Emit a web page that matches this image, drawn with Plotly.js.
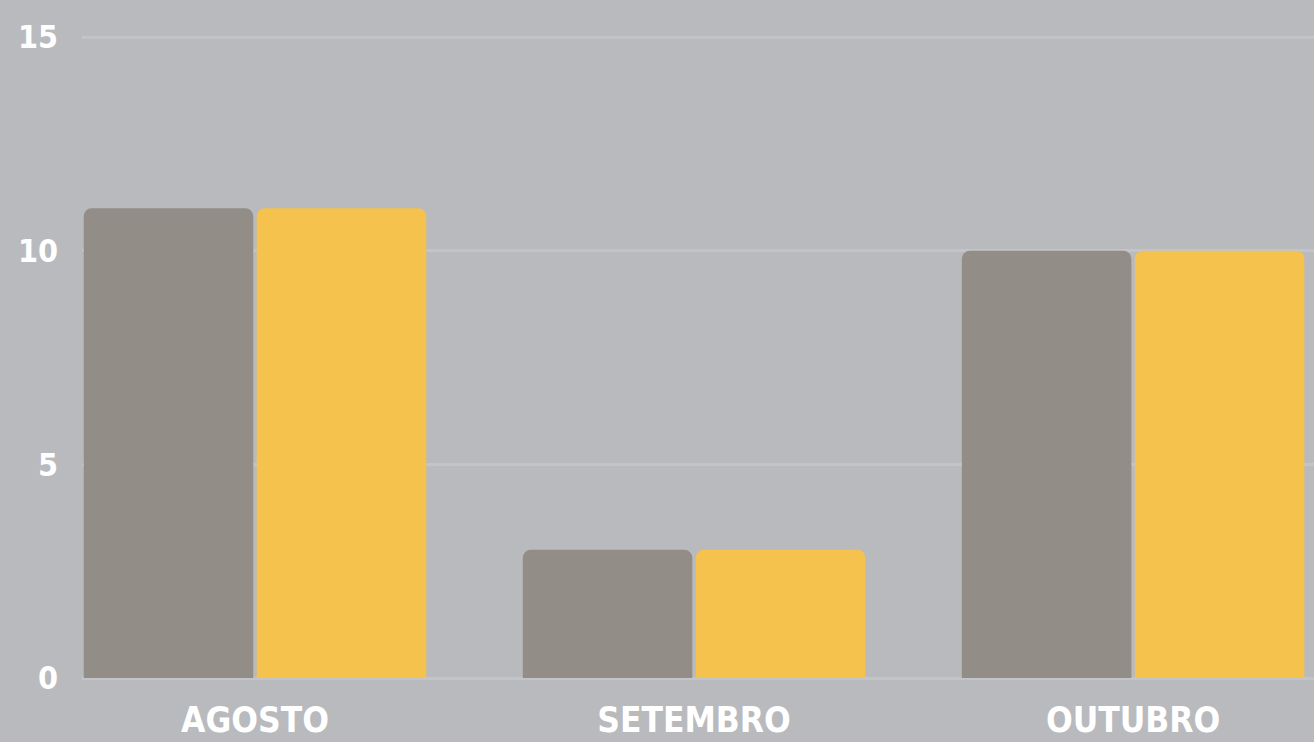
<!DOCTYPE html>
<html>
<head>
<meta charset="utf-8">
<script src="https://cdn.plot.ly/plotly-3.0.1.min.js"></script>
<style>
html,body{margin:0;padding:0;background:#b9babe;}
#chart{width:1314px;height:742px;}
</style>
</head>
<body>
<div id="chart"></div>
<script>
const categories = ["AGOSTO", "SETEMBRO", "OUTUBRO"];
const seriesA = [11, 3, 10];
const seriesB = [11, 3, 10];
const yTicks = [0, 5, 10, 15];

const fontFam = "'DejaVu Sans Condensed', 'Liberation Sans Narrow', 'Arial Narrow', sans-serif";

const data = [
  {type: "bar", x: categories, y: seriesA, name: "A",
   marker: {color: "#928d86", cornerradius: 8}, hoverinfo: "none"},
  {type: "bar", x: categories, y: seriesB, name: "B",
   marker: {color: "#f5c24d", cornerradius: 8}, hoverinfo: "none"}
];

const layout = {
  width: 1314, height: 742,
  paper_bgcolor: "#b9babe",
  plot_bgcolor: "#b9babe",
  showlegend: false,
  barmode: "group",
  bargap: 0.212,
  bargroupgap: 0.02,
  margin: {l: 82, r: 0, t: 33, b: 64, pad: 0},
  xaxis: {
    type: "category",
    range: [-0.394, 2.412],
    showgrid: false,
    zeroline: false,
    showline: false,
    ticks: "",
    ticklabelstandoff: 18,
    tickfont: {family: fontFam, size: 35, color: "#ffffff", weight: "bold"}
  },
  yaxis: {
    range: [0, 15.1],
    tickvals: yTicks,
    ticktext: yTicks.map(String),
    showgrid: true,
    gridcolor: "#c3c4c7",
    gridwidth: 3,
    zeroline: true,
    zerolinecolor: "#c3c4c7",
    zerolinewidth: 3,
    showline: false,
    ticks: "",
    ticklabelstandoff: 23,
    tickfont: {family: fontFam, size: 32, color: "#ffffff", weight: "bold"}
  }
};

Plotly.newPlot("chart", data, layout, {displayModeBar: false, staticPlot: true});
</script>
</body>
</html>
